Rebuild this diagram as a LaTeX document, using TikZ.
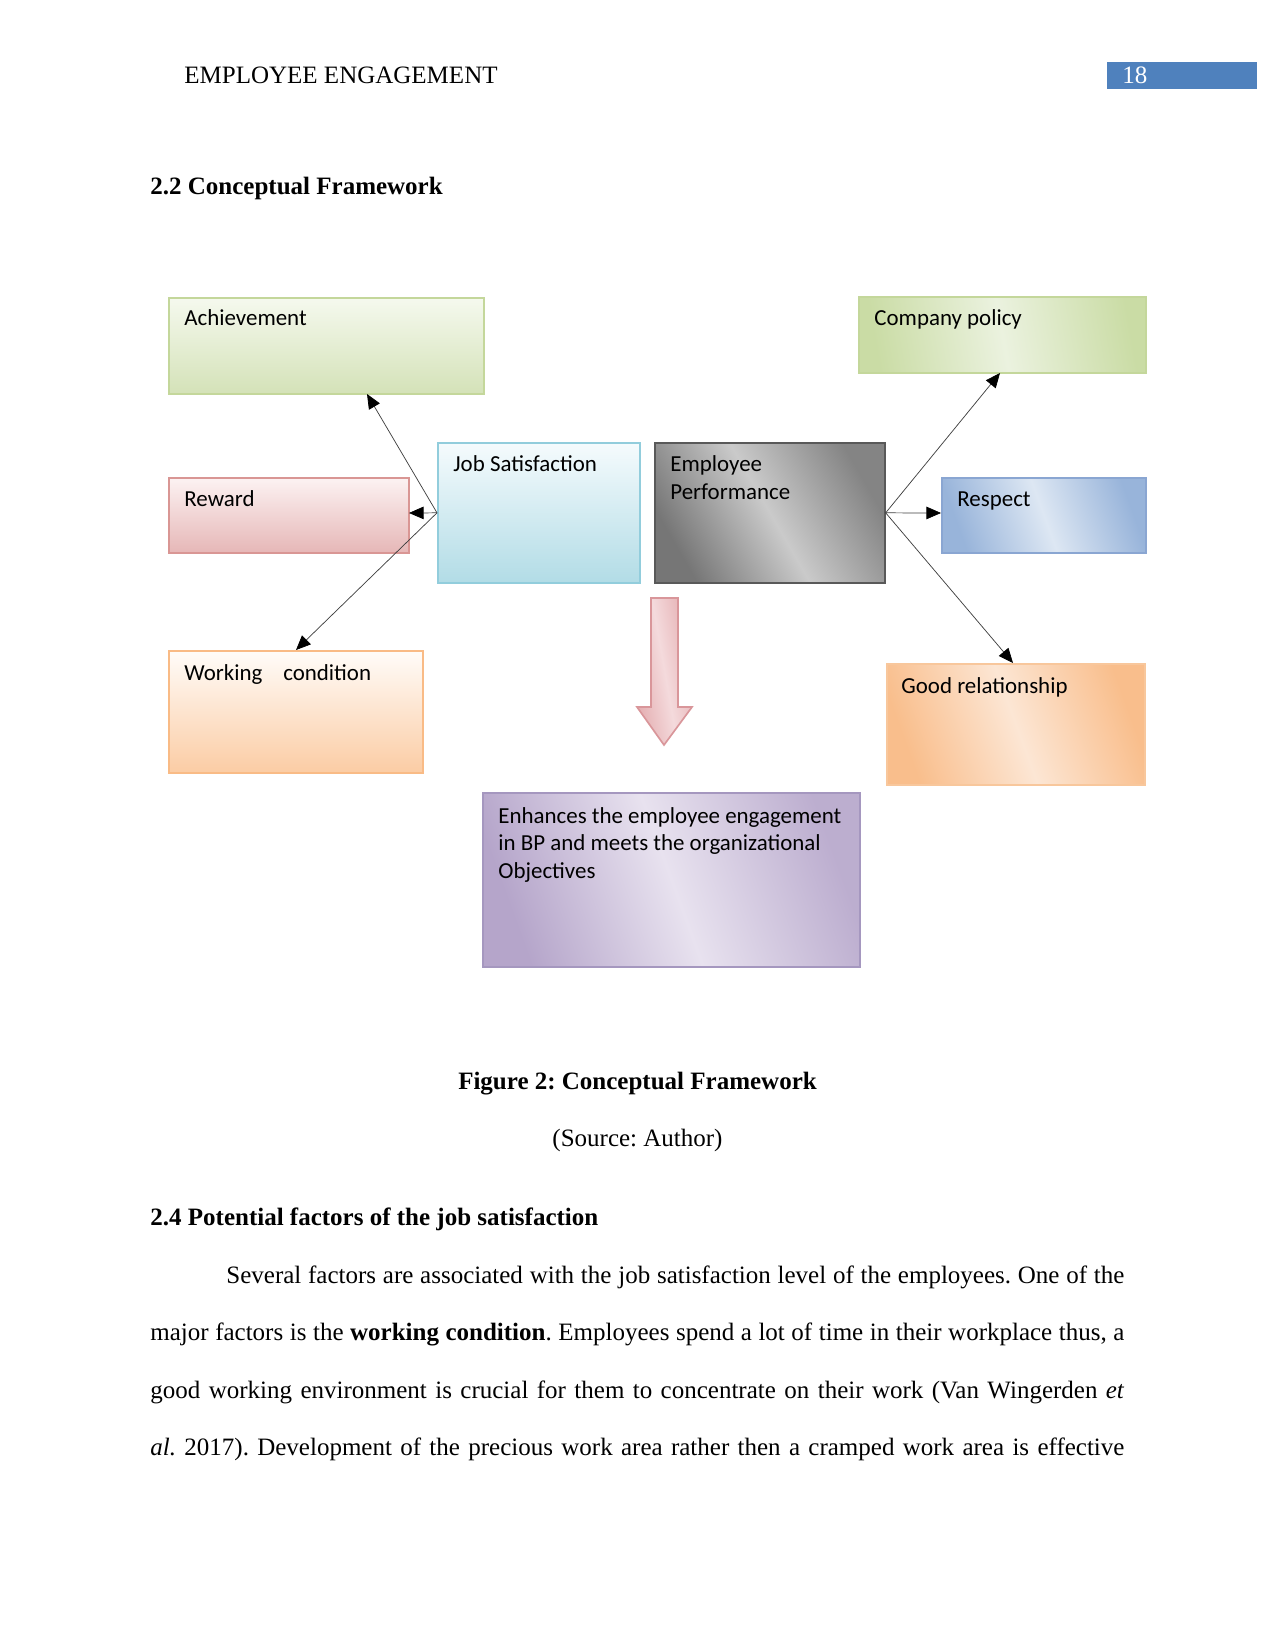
\documentclass[tikz,border=0pt]{standalone}
\usepackage{fontspec}
\setmainfont{Liberation Serif}
\newfontfamily\calibri{Carlito}
\usetikzlibrary{arrows.meta}
\definecolor{achTop}{HTML}{F5F9EE}
\definecolor{achBot}{HTML}{D4E2B8}
\definecolor{greenBd}{HTML}{C4D79B}
\definecolor{cpBase}{HTML}{CADCA5}
\definecolor{cpMid}{HTML}{EBF2DF}
\definecolor{rewTop}{HTML}{FCF2F2}
\definecolor{rewBot}{HTML}{E6B7B7}
\definecolor{rewBd}{HTML}{D99694}
\definecolor{jsTop}{HTML}{F5FBFD}
\definecolor{jsBot}{HTML}{B2DCE6}
\definecolor{jsBd}{HTML}{92CDDC}
\definecolor{epDark}{HTML}{767676}
\definecolor{epLight}{HTML}{CACACA}
\definecolor{epBd}{HTML}{595959}
\definecolor{resBase}{HTML}{98B4DA}
\definecolor{resMid}{HTML}{DDE7F3}
\definecolor{resBd}{HTML}{8AA6D2}
\definecolor{wcTop}{HTML}{FFFCF9}
\definecolor{wcBot}{HTML}{FBCCA4}
\definecolor{wcBd}{HTML}{F9BB86}
\definecolor{grBase}{HTML}{F9BE8C}
\definecolor{grMid}{HTML}{FCE6D4}
\definecolor{grBd}{HTML}{F8C79C}
\definecolor{enhBase}{HTML}{B5A5CA}
\definecolor{enhMid}{HTML}{E8E2EF}
\definecolor{enhBd}{HTML}{A597BF}
\definecolor{arBase}{HTML}{E4ADB0}
\definecolor{arMid}{HTML}{F4DADC}
\definecolor{arBd}{HTML}{D9969A}
\definecolor{pgblue}{HTML}{4F81BD}
\frenchspacing
\begin{document}
\frenchspacing
\begin{tikzpicture}[x=0.48pt, y=-0.48pt,
  sz/.style 2 args={minimum width={#1*0.48pt}, minimum height={#2*0.48pt}},
  box/.style={draw, line width=0.8pt, anchor=north west, inner sep=0pt},
  btext/.style={anchor=base west, inner sep=0pt, font=\calibri\fontsize{11}{13.2}\selectfont, align=left},
  body/.style={anchor=base west, inner sep=0pt, font=\fontsize{12}{14}\selectfont},
  bodybf/.style={anchor=base west, inner sep=0pt, font=\fontsize{12}{14}\selectfont\bfseries},
  conn/.style={draw=black!75, line width=0.35pt, -{Triangle[length=7pt,width=6pt,color=black]}}]
\useasboundingbox[fill=white] (0,0) rectangle (1275,1650);

% header
\node[body] (hdr) at (184,84) {EMPLOYEE ENGAGEMENT};
\node[box, draw=none, fill=pgblue, sz={150}{27}] (pg) at (1106,61) {};
\node[body, text=white] (pgn) at (1122,84) {18};

\node[bodybf] (h22) at (150,195) {2.2 Conceptual Framework};

% boxes
\node[box, draw=greenBd, top color=achTop, bottom color=achBot, sz={315}{96}] (ach) at (168,297) {};
\node[box, draw=rewBd, top color=rewTop, bottom color=rewBot, sz={240}{75}] (rew) at (168,477) {};
\node[box, draw=jsBd, top color=jsTop, bottom color=jsBot, sz={202}{140}] (js) at (437,442) {};
\node[box, draw=epBd, left color=epDark, right color=epDark!90, middle color=epLight, shading angle=120, sz={230}{140}] (ep) at (654,442) {};
\node[box, draw=greenBd, left color=cpBase, right color=cpBase, middle color=cpMid, shading angle=100, sz={287}{76}] (cp) at (858,296) {};
\node[box, draw=resBd, left color=resBase, right color=resBase, middle color=resMid, shading angle=110, sz={204}{75}] (res) at (941,477) {};
\node[box, draw=wcBd, top color=wcTop, bottom color=wcBot, sz={254}{122}] (wc) at (168,650) {};
\node[box, draw=grBd, left color=grBase, right color=grBase, middle color=grMid, shading angle=110, sz={258}{121}] (gr) at (886,663) {};
\node[box, draw=enhBd, left color=enhBase, right color=enhBase!90, middle color=enhMid, shading angle=110, sz={377}{174}] (enh) at (482,792) {};

% texts (base anchor of a multi-line node is its last line)
\node[btext] (achT) at (184,326) {Achievement};
\node[btext] (rewT) at (184,506) {Reward};
\node[btext] (jsT) at (453,472) {Job Satisfaction};
\node[btext] (epT) at (670,499) {Employee\\Performance};
\node[btext] (cpT) at (874,326) {Company policy};
\node[btext] (resT) at (957,506) {Respect};
\node[btext] (wcT) at (184,680) {Working\hspace{10pt}condition};
\node[btext] (grT) at (901,693) {Good relationship};
\node[btext] (enhT) at (498,878) {Enhances the employee engagement\\in BP and meets the organizational\\Objectives};

% connector ends
\coordinate (achIn) at (367,394);
\coordinate (rewIn) at (409,513);
\coordinate (wcIn) at (296,650);
\coordinate (cpIn) at (1000,373);
\coordinate (resIn) at (941,513);
\coordinate (grIn) at (1013,663);

\draw[conn] (js.west) -- (achIn);
\draw[conn] (js.west) -- (rewIn);
\draw[conn] (js.west) -- (wcIn);
\draw[conn] (ep.east) -- (cpIn);
\draw[conn] (ep.east) -- (resIn);
\draw[conn] (ep.east) -- (grIn);

% block arrow
\draw[draw=arBd, line width=0.8pt, left color=arBase, right color=arBase, middle color=arMid, shading angle=100]
  (651,598) -- (678,598) -- (678,707) -- (692,707) -- (664,745) -- (637,707) -- (651,707) -- cycle;

% caption
\node[bodybf, anchor=base] (cap) at (637.5,1089) {Figure 2: Conceptual Framework};
\node[body, anchor=base] (src) at (637.5,1146) {(Source: Author)};

\node[bodybf] (h24) at (150,1225) {2.4 Potential factors of the job satisfaction};

\node[body] (p1) at (226,1283) {\hbox to 431pt{Several factors are associated with the job satisfaction level of the employees. One of the}};
\node[body] (p2) at (150,1340.5) {\hbox to 467.5pt{major factors is the \textbf{working condition}. Employees spend a lot of time in their workplace thus, a}};
\node[body] (p3) at (150,1398) {\hbox to 467.5pt{good working environment is crucial for them to concentrate on their work (Van Wingerden \textit{et}}};
\node[body] (p4) at (150,1455.5) {\hbox to 467.5pt{\textit{al.} 2017). Development of the precious work area rather then a cramped work area is effective}};
\end{tikzpicture}
\end{document}
